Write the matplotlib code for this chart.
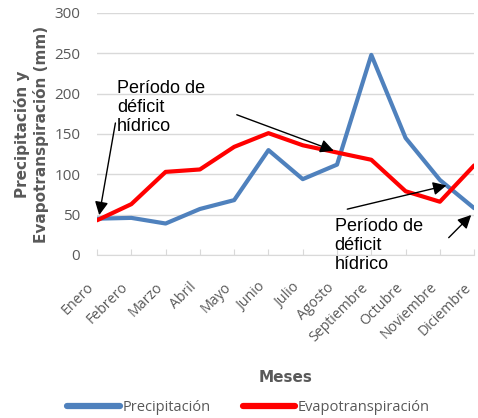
import numpy as np
import matplotlib.pyplot as plt

meses = ["Enero", "Febrero", "Marzo", "Abril", "Mayo", "Junio", "Julio",
         "Agosto", "Septiembre", "Octubre", "Noviembre", "Diciembre"]
precipitacion = [45, 46, 39, 57, 68, 130, 94, 112, 248, 145, 93, 58]
evapotranspiracion = [43, 63, 103, 106, 134, 151, 136, 127, 118, 79, 66, 111]
yticks = [0, 50, 100, 150, 200, 250, 300]

gris = "#595959"
x = np.arange(len(meses))

fig = plt.figure(figsize=(4.78, 4.18), dpi=100)
ax = fig.add_axes([0.203, 0.39, 0.789, 0.579])

ax.plot(x, precipitacion, color="#4F81BD", lw=3, label="Precipitación", solid_capstyle="round")
ax.plot(x, evapotranspiracion, color="#FF0000", lw=3, label="Evapotranspiración", solid_capstyle="round")

ax.set_xlim(0, len(meses) - 1)
ax.set_ylim(0, 300)
ax.set_yticks(yticks)
ax.set_xticks(x)
ax.set_xticklabels(meses, rotation=45, ha="right", va="top", rotation_mode="default",
                   fontsize=10.2, color=gris, family="Open Sans")
for t in ax.get_yticklabels():
    t.set_fontsize(11)
    t.set_color(gris)
    t.set_family("Open Sans")
ax.tick_params(axis="y", length=0, pad=12)
ax.tick_params(axis="x", length=4, direction="in", color="#D9D9D9", pad=18)
ax.grid(axis="y", color="#D9D9D9", lw=1)
ax.set_axisbelow(True)
for s in ["top", "right", "left"]:
    ax.spines[s].set_visible(False)
ax.spines["bottom"].set_color("#D9D9D9")

ax.set_ylabel("Precipitación y\nEvapotranspiración (mm)", fontsize=11, fontweight="bold",
              color=gris, labelpad=4)
ax.set_xlabel("Meses", fontsize=11, fontweight="bold", color=gris, labelpad=18)

# anotaciones
txt = "Período de\ndéficit\nhídrico"
ap = dict(arrowstyle="-|>", color="black", lw=1, mutation_scale=20)
ax.text(0.58, 217, txt, fontsize=13, family="Liberation Sans", va="top", ha="left",
        linespacing=1.15)
ax.annotate("", xy=(0.05, 46), xytext=(0.55, 167), arrowprops=ap, annotation_clip=False)
ax.annotate("", xy=(6.98, 128), xytext=(4.0, 175), arrowprops=ap, annotation_clip=False)
ax.text(6.93, 46, txt, fontsize=13, family="Liberation Sans", va="top", ha="left",
        linespacing=1.15, clip_on=False)
ax.annotate("", xy=(10.27, 87), xytext=(7.22, 56), arrowprops=ap, annotation_clip=False)
ax.annotate("", xy=(10.97, 52), xytext=(10.2, 19), arrowprops=ap, annotation_clip=False)

leg = fig.legend(loc="lower center", bbox_to_anchor=(0.52, -0.025), ncol=2, frameon=False,
                 handlelength=3.6, columnspacing=2.2, handletextpad=0.2,
                 prop={"family": "Open Sans", "size": 10.5})
for t in leg.get_texts():
    t.set_color(gris)
for l in leg.get_lines():
    l.set_linewidth(4.5)
    l.set_solid_capstyle("round")

fig.savefig("out.png", dpi=100)
